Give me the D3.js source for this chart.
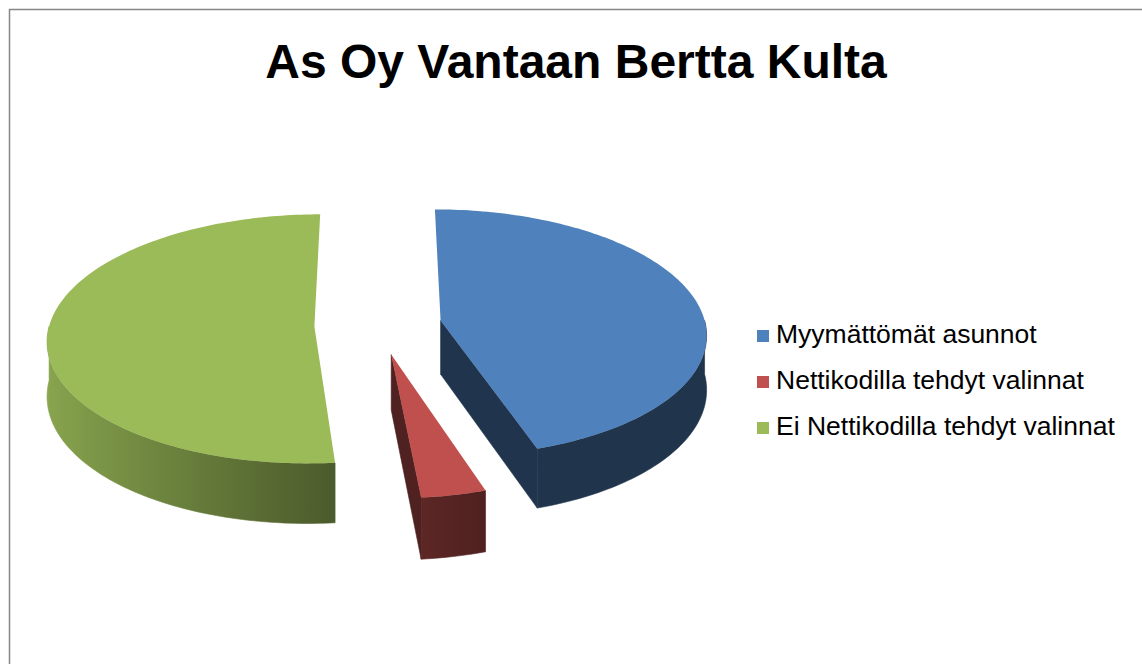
<!DOCTYPE html>
<html>
<head>
<meta charset="utf-8">
<title>As Oy Vantaan Bertta Kulta</title>
<script src="https://d3js.org/d3.v7.min.js"></script>
<style>
    body { margin: 0; background: #fff; }
    svg { display: block; font-family: 'Liberation Sans', Arial, sans-serif; }
    .frame { fill: none; stroke: #868686; stroke-width: 1.5px; }
    .title { font-size: 48px; font-weight: bold; fill: #000; }
    .legend text { font-size: 26.5px; fill: #000; }
</style>
</head>
<body>
<div id="chart"></div>
<script>
    // Data
    const categories = ["Myymättömät asunnot", "Nettikodilla tehdyt valinnat", "Ei Nettikodilla tehdyt valinnat"];
    const values = [45, 3.5, 51.5];
    const colors = ["#4F81BD", "#C0504D", "#9BBB59"];

    const width = 1142, height = 664;
    const cx = 378, cy = 325;     // pie centre on screen
    const rx = 265, ry = 123;     // ellipse radii of top face
    const thick = 54;             // side height
    const persp = 0.1;            // front looks bigger than back
    const explode = 0.24;         // in radius units

    const svg = d3.select("#chart").append("svg")
        .attr("width", width)
        .attr("height", height);
    const defs = svg.append("defs");

    svg.append("rect")
        .attr("class", "frame")
        .attr("x", 9.5).attr("y", 9.5)
        .attr("width", 1200).attr("height", 700);

    svg.append("text")
        .attr("class", "title")
        .attr("x", 576).attr("y", 78)
        .attr("text-anchor", "middle")
        .text("As Oy Vantaan Bertta Kulta");

    const color = d3.scaleOrdinal().domain(categories).range(colors);

    const arcs = d3.pie().sort(null).value(d => d.value)(
        categories.map((c, i) => ({name: c, value: values[i]}))
    );

    // X to the right, Y to the back (radius units), z = 0 top face, 1 bottom
    function project(X, Y, z) {
        const s = 1 / (1 + persp * Y);
        return [cx + rx * X * s, cy - ry * Y * s + thick * z * s];
    }

    function shade(c, k) {
        const h = d3.rgb(c);
        return d3.rgb(h.r * k, h.g * k, h.b * k).formatHex();
    }

    const line = d3.line();
    const samples = (a0, a1) => {
        const n = Math.max(2, Math.ceil((a1 - a0) / 0.02));
        return d3.range(n + 1).map(i => a0 + (a1 - a0) * i / n);
    };

    const slices = arcs.map(a => {
        const mid = (a.startAngle + a.endAngle) / 2;
        return Object.assign({}, a, {ox: explode * Math.sin(mid), oy: explode * Math.cos(mid)});
    });
    // back slices first
    slices.sort((p, q) => q.oy - p.oy);

    const pt = (d, ang, r, z) => project(d.ox + r * Math.sin(ang), d.oy + r * Math.cos(ang), z);

    slices.forEach(d => {
        const g = svg.append("g");
        const base = color(d.data.name);

        // outer wall, only the front half shows
        const w0 = Math.max(d.startAngle, Math.PI / 2);
        const w1 = Math.min(d.endAngle, 3 * Math.PI / 2);
        if (w1 > w0) {
            const angs = samples(w0, w1);
            const topPts = angs.map(a => pt(d, a, 1, 0));
            const botPts = angs.map(a => pt(d, a, 1, 1)).reverse();
            const x0 = d3.min(topPts, p => p[0]), x1 = d3.max(topPts, p => p[0]);
            const gid = "wall" + d.index;
            const stops = angs.map((a, j) => ({
                off: (topPts[j][0] - x0) / (x1 - x0),
                col: shade(base, Math.max(0.4, 0.52 - 0.37 * Math.sin(a)))
            })).sort((p, q) => p.off - q.off);
            defs.append("linearGradient")
                .attr("id", gid)
                .attr("gradientUnits", "userSpaceOnUse")
                .attr("x1", x0).attr("x2", x1).attr("y1", 0).attr("y2", 0)
                .selectAll("stop").data(stops).join("stop")
                .attr("offset", s => s.off)
                .attr("stop-color", s => s.col);
            g.append("path")
                .attr("d", line(topPts.concat(botPts)) + "Z")
                .attr("fill", `url(#${gid})`)
                .attr("stroke", `url(#${gid})`)
                .attr("stroke-width", 0.6);
        }

        // cut faces along the radii, drawn when they face the viewer
        [[d.startAngle, d.startAngle - Math.PI / 2], [d.endAngle, d.endAngle + Math.PI / 2]].forEach(([a, n]) => {
            if (Math.cos(n) < -0.01) {
                const poly = [pt(d, 0, 0, 0), pt(d, a, 1, 0), pt(d, a, 1, 1), pt(d, 0, 0, 1)];
                g.append("path")
                    .attr("d", line(poly) + "Z")
                    .attr("fill", shade(base, 0.41))
                    .attr("stroke", shade(base, 0.41))
                    .attr("stroke-width", 0.6);
            }
        });

        // top face
        const top = [pt(d, 0, 0, 0)].concat(samples(d.startAngle, d.endAngle).map(a => pt(d, a, 1, 0)));
        g.append("path")
            .attr("d", line(top) + "Z")
            .attr("fill", base);
    });

    // Legend
    const ly = d3.scalePoint().domain(categories).range([343, 435]);
    const rows = svg.append("g")
        .attr("class", "legend")
        .selectAll("g").data(categories).join("g")
        .attr("transform", d => `translate(757,${ly(d)})`);
    rows.append("rect")
        .attr("x", 0).attr("y", -13)
        .attr("width", 12).attr("height", 12)
        .attr("fill", d => color(d));
    rows.append("text")
        .attr("x", 19).attr("y", 0)
        .text(d => d);
</script>
</body>
</html>
